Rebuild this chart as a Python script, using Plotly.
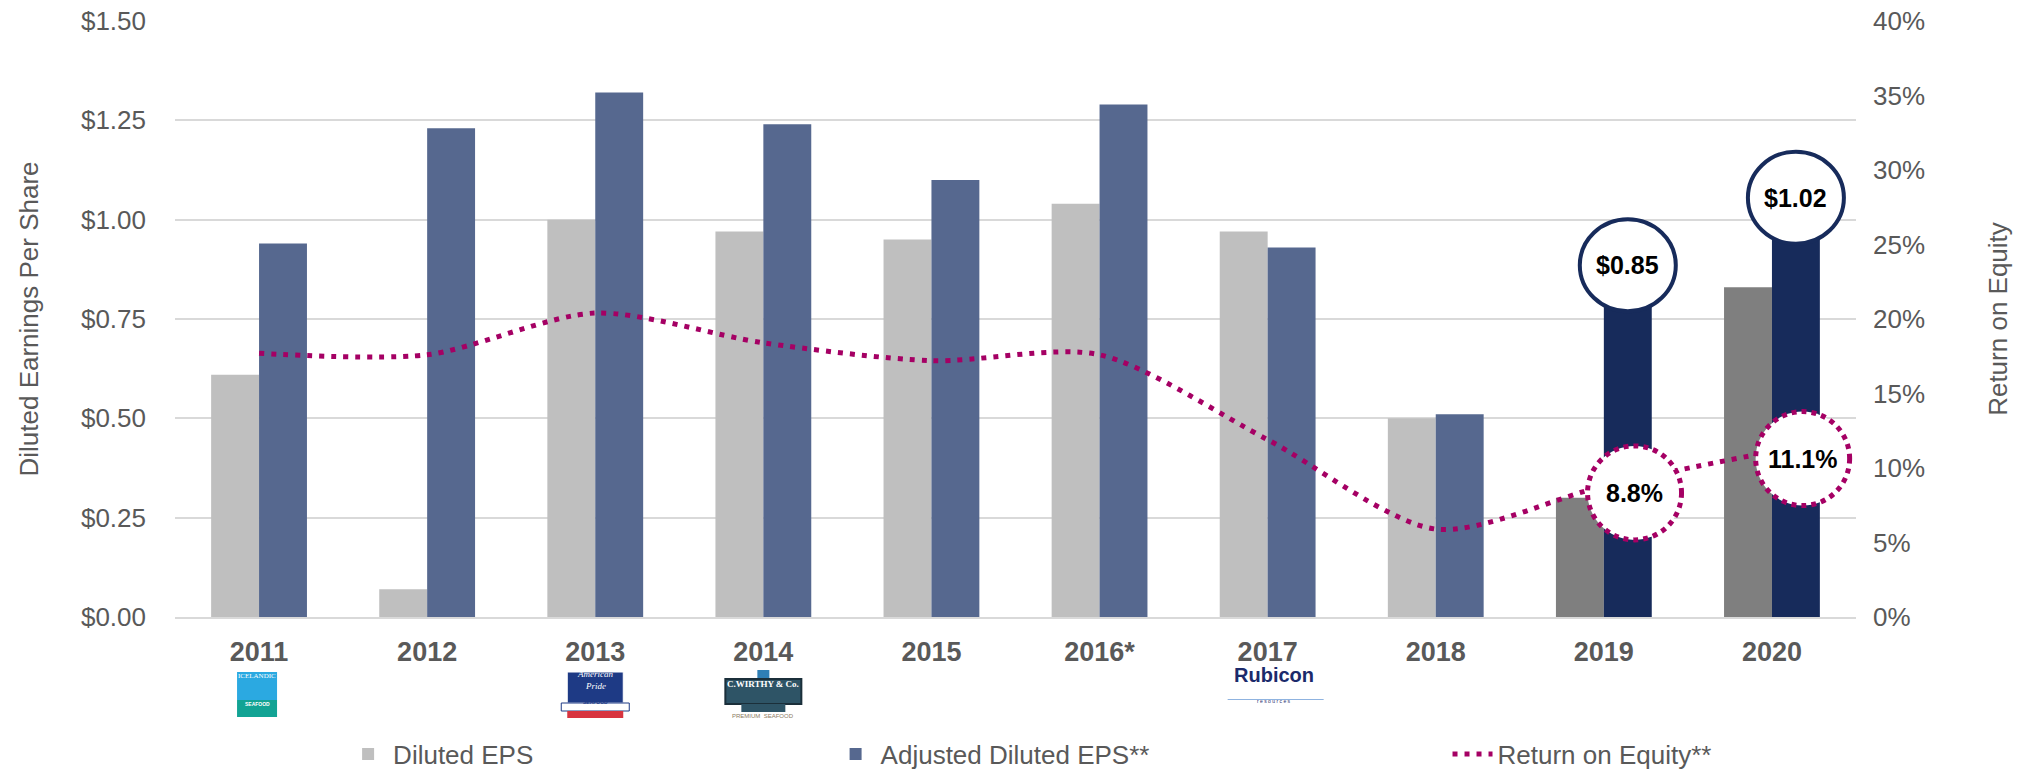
import plotly.graph_objects as go

years = ["2011", "2012", "2013", "2014", "2015", "2016*", "2017", "2018", "2019", "2020"]
diluted_eps = [0.61, 0.07, 1.00, 0.97, 0.95, 1.04, 0.97, 0.50, 0.30, 0.83]
adjusted_eps = [0.94, 1.23, 1.32, 1.24, 1.10, 1.29, 0.93, 0.51, 0.85, 1.02]
roe = [0.177, 0.176, 0.204, 0.184, 0.172, 0.176, 0.119, 0.059, 0.088, 0.111]
callout_years = ["2019", "2020"]
eps_ticks = [0, 0.25, 0.5, 0.75, 1.0, 1.25, 1.5]
roe_ticks = [0, 0.05, 0.10, 0.15, 0.20, 0.25, 0.30, 0.35, 0.40]

FONT = "Liberation Sans, Arial, sans-serif"
GREY_TXT = "#595959"
MAGENTA = "#A50064"
NAVY = "#172B5B"
BARGAP = 0.43

hl = [y in callout_years for y in years]
grey_cols = ["#7F7F7F" if h else "#BFBFBF" for h in hl]
blue_cols = [NAVY if h else "#56688F" for h in hl]
blue_off = (1 - BARGAP) / 4  # centre of 2nd bar in a group

fig = go.Figure()

fig.add_trace(go.Bar(
    x=years, y=diluted_eps, name="Diluted EPS",
    marker=dict(color=grey_cols, line=dict(width=0)),
    legend="legend", showlegend=True,
))
fig.add_trace(go.Bar(
    x=years, y=adjusted_eps, name="Adjusted Diluted EPS**",
    marker=dict(color=blue_cols, line=dict(width=0)),
    legend="legend2", showlegend=True,
))
fig.add_trace(go.Scatter(
    x=years, y=roe, name="Return on Equity**", yaxis="y2",
    mode="lines",
    line=dict(color=MAGENTA, width=5, dash="5px,7px", shape="spline", smoothing=0.8),
    legend="legend3", showlegend=True,
))

# call-out circles for the latest years
for i, yr in enumerate(years):
    if yr not in callout_years:
        continue
    xc = i + blue_off
    fig.add_shape(type="circle", xref="x", yref="y", xsizemode="pixel", ysizemode="pixel",
                  xanchor=xc, yanchor=adjusted_eps[i], x0=-48, x1=48, y0=-32, y1=60,
                  line=dict(color=NAVY, width=4), fillcolor="white", layer="above")
    fig.add_annotation(x=xc, y=adjusted_eps[i], xref="x", yref="y", yshift=14,
                       text=f"<b>${adjusted_eps[i]:.2f}</b>", showarrow=False,
                       font=dict(family=FONT, size=25, color="black"))
    fig.add_shape(type="circle", xref="x", yref="y2", xsizemode="pixel", ysizemode="pixel",
                  xanchor=xc + 0.04, yanchor=roe[i], x0=-47, x1=47, y0=-54, y1=40,
                  line=dict(color=MAGENTA, width=5, dash="dot"), fillcolor="white", layer="above")
    fig.add_annotation(x=xc + 0.04, y=roe[i], xref="x", yref="y2", yshift=-7,
                       text=f"<b>{roe[i] * 100:.1f}%</b>", showarrow=False,
                       font=dict(family=FONT, size=25, color="black"))

# small acquisition logos under the axis (rough sketches)
def px_rect(cat, xa, xb, ya, yb, color, line=None):
    fig.add_shape(type="rect", xref="x", yref="paper", xsizemode="pixel", ysizemode="pixel",
                  xanchor=cat, yanchor=0, x0=xa, x1=xb, y0=ya, y1=yb,
                  fillcolor=color, line=line or dict(width=0), layer="above")

def px_text(cat, dx, dy, text, size, color, bold=False, family=FONT):
    fig.add_annotation(x=cat, y=0, xref="x", yref="paper", xshift=dx, yshift=dy,
                       text=f"<b>{text}</b>" if bold else text, showarrow=False,
                       font=dict(family=family, size=size, color=color))

# Icelandic Seafood (2011)
px_rect(0, -22, 18, -83, -55, "#2BA9E1")
px_rect(0, -22, 18, -100, -83, "#12A394")
px_text(0, -2, -65, "ICELANDIC", 7, "white", family="Liberation Serif")
px_text(0, -2, -92, "SEAFOOD", 5, "white", bold=True)

# American Pride Seafood (2013)
px_rect(2, -28, 28, -86, -55, "#1E3A85", line=dict(color="white", width=1))
px_rect(2, -34, 34, -94, -86, "white", line=dict(color="#1E3A85", width=1))
px_rect(2, -28, 28, -101, -94, "#D8343F")
px_text(2, 0, -64, "<i>American</i>", 9, "white", family="Liberation Serif")
px_text(2, 0, -76, "<i>Pride</i>", 9, "white", family="Liberation Serif")
px_text(2, 0, -90, "SEAFOOD", 5, "#1E3A85", bold=True)

# C. Wirthy & Co. (2014)
px_rect(3, -6, 6, -62, -53, "#2F7FB5")
px_rect(3, -38, 38, -87, -62, "#2E5466", line=dict(color="#1B2F3A", width=2))
px_rect(3, -22, 22, -95, -87, "#2E5466")
px_text(3, 0, -74, "C.WIRTHY &amp; Co.", 9, "white", bold=True, family="Liberation Serif")
px_text(3, 0, -104, "PREMIUM  SEAFOOD", 6, "#8A7A60")

# Rubicon Resources (2017)
px_text(6, 6, -71, "Rubicon", 20, "#1B2A6B", bold=True)
px_rect(6, -40, 56, -83, -82, "#8FB3E0")
px_text(6, 6, -89, "r e s o u r c e s", 5, "#1B2A6B")

legend_common = dict(orientation="h", yanchor="middle", y=-0.23, xanchor="left",
                     bgcolor="rgba(0,0,0,0)", itemwidth=40,
                     font=dict(family=FONT, size=26, color=GREY_TXT))

fig.update_layout(
    width=2021, height=771,
    margin=dict(l=175, r=165, t=21, b=154, autoexpand=False),
    plot_bgcolor="white", paper_bgcolor="white",
    font=dict(family=FONT, size=26, color=GREY_TXT),
    showlegend=True,
    barmode="group", bargap=BARGAP, bargroupgap=0,
    xaxis=dict(
        type="category", tickfont=dict(size=27, color=GREY_TXT, family=FONT),
        tickprefix="<b>", ticksuffix="</b>", ticks="", ticklabelstandoff=10,
        showgrid=False, showline=True, linecolor="#D9D9D9", linewidth=2,
        automargin=False,
    ),
    yaxis=dict(
        range=[0, 1.5], tickmode="array", tickvals=eps_ticks,
        ticktext=[f"${v:.2f}" for v in eps_ticks],
        tickfont=dict(size=26, color=GREY_TXT),
        showgrid=True, gridcolor="#D9D9D9", gridwidth=2, zeroline=False,
        ticks="", ticklabelstandoff=28, automargin=False,
        title=dict(text="Diluted Earnings Per Share", standoff=34,
                   font=dict(size=26, color=GREY_TXT)),
    ),
    yaxis2=dict(
        range=[0, 0.40], tickmode="array", tickvals=roe_ticks,
        ticktext=[f"{v * 100:.0f}%" for v in roe_ticks],
        overlaying="y", side="right",
        tickfont=dict(size=26, color=GREY_TXT),
        showgrid=False, zeroline=False, ticks="", ticklabelstandoff=16, automargin=False,
        title=dict(text="Return on Equity", standoff=64,
                   font=dict(size=26, color=GREY_TXT)),
    ),
    legend=dict(legend_common, x=0.1),
    legend2=dict(legend_common, x=0.39),
    legend3=dict(legend_common, x=0.757),
)

# drop the page's default body margin so the figure fills the window exactly
fig.write_html("out.html", config={"displayModeBar": False},
               post_script="document.body.style.margin = '0px';")
